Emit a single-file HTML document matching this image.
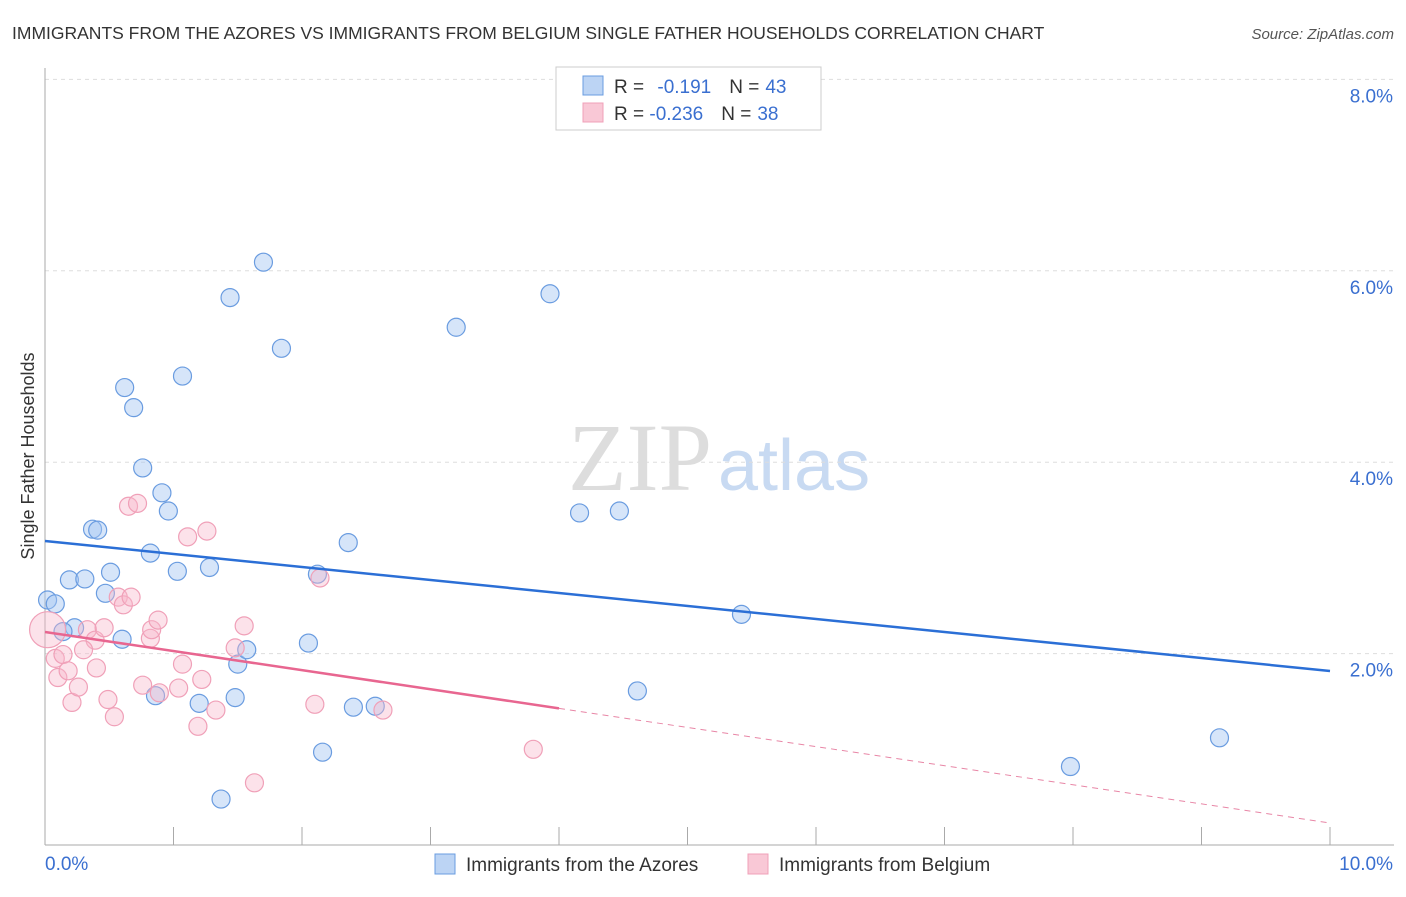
<!DOCTYPE html>
<html><head><meta charset="utf-8"><style>
body{margin:0;background:#fff;font-family:"Liberation Sans",sans-serif;}
</style></head><body>
<svg width="1406" height="892" xmlns="http://www.w3.org/2000/svg" id="chart">
<text x="12" y="39" font-size="17.5" fill="#333">IMMIGRANTS FROM THE AZORES VS IMMIGRANTS FROM BELGIUM SINGLE FATHER HOUSEHOLDS CORRELATION CHART</text>
<text x="1394" y="39" font-size="15" fill="#555" font-style="italic" text-anchor="end">Source: ZipAtlas.com</text>
<text x="712" y="490" font-size="96" font-family="Liberation Serif,serif" fill="#ddd" text-anchor="end">ZIP</text>
<text x="718" y="490" font-size="72" fill="#c8daf2">atlas</text>
<g id="grid"></g>
<g id="marks"></g>
<text transform="translate(34,456) rotate(-90)" font-size="18" fill="#333" text-anchor="middle">Single Father Households</text>
<g>
<rect x="556" y="67" width="265" height="63" fill="#fff" stroke="#ccc"/>
<rect x="583" y="76" width="20" height="19" fill="#bcd4f4" stroke="#6a9ce0"/>
<rect x="583" y="103" width="20" height="19" fill="#f9c8d6" stroke="#f0a0b8"/>
<text x="614" y="93" font-size="19" fill="#333">R = <tspan fill="#3a6fd0" dx="8">-0.191</tspan><tspan fill="#333" dx="18">N =</tspan><tspan fill="#3a6fd0" dx="6">43</tspan></text>
<text x="614" y="120" font-size="19" fill="#333">R = <tspan fill="#3a6fd0">-0.236</tspan><tspan fill="#333" dx="18">N =</tspan><tspan fill="#3a6fd0" dx="6">38</tspan></text>
</g>
<g>
<rect x="435" y="854" width="20" height="20" fill="#bcd4f4" stroke="#6a9ce0"/>
<text x="466" y="871" font-size="19" fill="#333">Immigrants from the Azores</text>
<rect x="748" y="854" width="20" height="20" fill="#f9c8d6" stroke="#f0a0b8"/>
<text x="779" y="871" font-size="19" fill="#333">Immigrants from Belgium</text>
</g>
</svg>
<script>
const yTicks=[2,4,6,8];
const yTickLabels=["2.0%","4.0%","6.0%","8.0%"];
const xTicks=[0,1,2,3,4,5,6,7,8,9,10];
const azoresX=[0.02,0.08,0.19,0.31,0.23,0.37,0.41,0.51,0.47,0.60,0.62,0.69,0.76,0.82,0.91,0.96,1.03,1.07,1.28,1.44,1.50,1.57,1.70,1.84,2.05,2.12,2.36,2.16,2.40,2.57,0.86,1.20,1.37,1.48,3.20,3.93,4.16,4.47,4.61,5.42,7.98,9.14,0.14];
const azoresY=[2.56,2.52,2.77,2.78,2.27,3.30,3.29,2.85,2.63,2.15,4.78,4.57,3.94,3.05,3.68,3.49,2.86,4.90,2.90,5.72,1.89,2.04,6.09,5.19,2.11,2.83,3.16,0.97,1.44,1.45,1.56,1.48,0.48,1.54,5.41,5.76,3.47,3.49,1.61,2.41,0.82,1.12,2.23];
const belgiumX=[0.02,0.08,0.14,0.10,0.18,0.21,0.26,0.33,0.39,0.40,0.46,0.49,0.54,0.30,0.57,0.61,0.67,0.65,0.72,0.76,0.82,0.83,0.88,0.89,1.04,1.07,1.11,1.19,1.22,1.26,1.33,1.48,1.55,1.63,2.10,2.14,2.63,3.80];
const belgiumY=[2.25,1.95,1.99,1.75,1.82,1.49,1.65,2.25,2.14,1.85,2.27,1.52,1.34,2.04,2.59,2.51,2.59,3.54,3.57,1.67,2.16,2.25,2.35,1.59,1.64,1.89,3.22,1.24,1.73,3.28,1.41,2.06,2.29,0.65,1.47,2.79,1.41,1.00];
const azoresTrend=[3.177,1.818];
const belgiumTrend=[2.226,0.23];
const belgiumSolidEnd=4.0;
const NS="http://www.w3.org/2000/svg";
const X=v=>45+v*128.5, Y=v=>845-v*95.7;
function mk(t,a,p){const e=document.createElementNS(NS,t);for(const k in a)e.setAttribute(k,a[k]);p.appendChild(e);return e;}
const grid=document.getElementById('grid'),marks=document.getElementById('marks');
yTicks.forEach((t,i)=>{
 const l=mk('line',{x1:45,x2:1394,y1:Y(t),y2:Y(t),stroke:'#ddd','stroke-dasharray':'4,4'},grid);
 
 const tx=mk('text',{x:1393,y:Y(t)+23,'font-size':19,fill:'#3a6fd0','text-anchor':'end'},grid);
 tx.textContent=yTickLabels[i];
 
});
let ax=mk('line',{x1:45,x2:45,y1:68,y2:845,stroke:'#aaa'},grid);

ax=mk('line',{x1:45,x2:1394,y1:845,y2:845,stroke:'#aaa'},grid);

xTicks.forEach(t=>{const l=mk('line',{x1:X(t),x2:X(t),y1:827,y2:845,stroke:'#aaa'},grid);
 });
let t0=mk('text',{x:45,y:870,'font-size':19,fill:'#3a6fd0'},grid);t0.textContent='0.0%';

t0=mk('text',{x:1393,y:870,'font-size':19,fill:'#3a6fd0','text-anchor':'end'},grid);t0.textContent='10.0%';

azoresX.forEach((x,i)=>{const c=mk('circle',{cx:X(x),cy:Y(azoresY[i]),r:9,fill:'rgba(165,198,242,0.45)',stroke:'#6a9ce0','stroke-width':1.2},marks);
 });
belgiumX.forEach((x,i)=>{const c=mk('circle',{cx:X(x),cy:Y(belgiumY[i]),r:i==0?18:9,fill:'rgba(248,182,202,0.4)',stroke:'#f0a0b8','stroke-width':1.2},marks);
 });
let ln=mk('line',{x1:X(0),y1:Y(azoresTrend[0]),x2:X(10),y2:Y(azoresTrend[1]),stroke:'#2b6fd6','stroke-width':2.5},marks);

const by=x=>belgiumTrend[0]+(belgiumTrend[1]-belgiumTrend[0])*x/10;
ln=mk('line',{x1:X(0),y1:Y(by(0)),x2:X(belgiumSolidEnd),y2:Y(by(belgiumSolidEnd)),stroke:'#e86690','stroke-width':2.5},marks);

ln=mk('line',{x1:X(belgiumSolidEnd),y1:Y(by(belgiumSolidEnd)),x2:X(10),y2:Y(by(10)),stroke:'#e886a6','stroke-width':1,'stroke-dasharray':'6,5'},marks);

</script>
</body></html>
